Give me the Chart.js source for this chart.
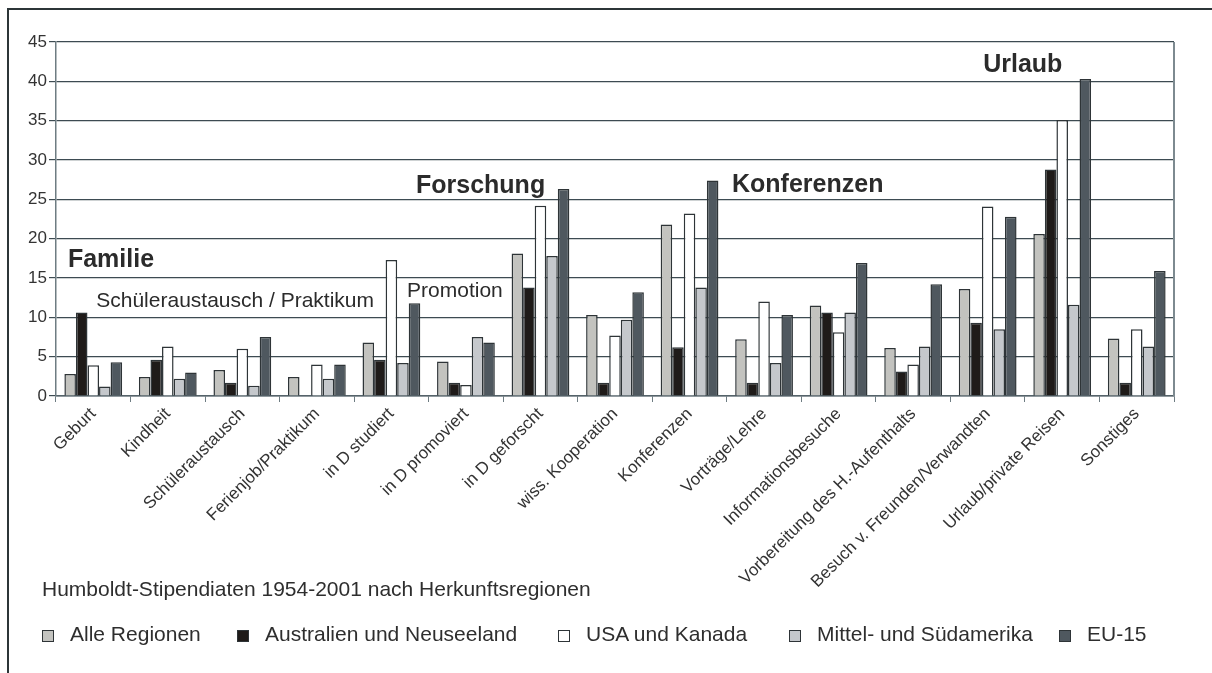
<!DOCTYPE html>
<html lang="de">
<head>
<meta charset="utf-8">
<title>Humboldt-Stipendiaten 1954-2001</title>
<script src="https://cdn.jsdelivr.net/npm/chart.js@4.4.1/dist/chart.umd.min.js"></script>
<style>
	html, body { margin: 0; padding: 0; background: #fff; }
	#wrap { position: relative; width: 1212px; height: 673px; overflow: hidden; font-family: "Liberation Sans", Arial, sans-serif; color: #2e2e2e; }
	#frame { position: absolute; left: 7px; top: 8px; width: 1300px; height: 800px; border-top: 2px solid #2c3538; border-left: 2px solid #2c3538; }
	#chart { position: absolute; left: 0; top: 0; }
	#caption { position: absolute; left: 42px; top: 577px; font-size: 21px; white-space: nowrap; }
	.leg-item { position: absolute; top: 622px; font-size: 21px; white-space: nowrap; }
	.leg-box { position: absolute; top: 8px; width: 10px; height: 10px; border: 1.5px solid #2e3437; }
</style>
</head>
<body>
<div id="wrap">
	<div id="frame"></div>
	<canvas id="chart" width="1212" height="673"></canvas>
	<div id="caption">Humboldt-Stipendiaten 1954-2001 nach Herkunftsregionen</div>
	<div id="legend"></div>
</div>
<script>
/* global Chart */

// Kategorien (x-Achse)
var categories = [
	'Geburt', 'Kindheit', 'Schüleraustausch', 'Ferienjob/Praktikum', 'in D studiert',
	'in D promoviert', 'in D geforscht', 'wiss. Kooperation', 'Konferenzen', 'Vorträge/Lehre',
	'Informationsbesuche', 'Vorbereitung des H.-Aufenthalts', 'Besuch v. Freunden/Verwandten',
	'Urlaub/private Reisen', 'Sonstiges'
];

// Werte je Herkunftsregion (in %)
var alleRegionen   = [ 2.8, 2.4, 3.3, 2.4, 6.8, 4.4, 18.1, 10.3, 21.8, 7.2, 11.5, 6.1, 13.6, 20.6, 7.3 ];
var australienNz   = [ 10.6, 4.6, 1.7, 0, 4.6, 1.7, 13.8, 1.7, 6.2, 1.7, 10.6, 3.1, 9.3, 28.8, 1.7 ];
var usaKanada      = [ 3.9, 6.3, 6.0, 4.0, 17.3, 1.4, 24.2, 7.7, 23.2, 12.0, 8.1, 4.0, 24.1, 35.1, 8.5 ];
var mittelSuedam   = [ 1.2, 2.2, 1.3, 2.2, 4.2, 7.5, 17.8, 9.7, 13.8, 4.2, 10.6, 6.3, 8.5, 11.6, 6.3 ];
var eu15           = [ 4.3, 3.0, 7.5, 4.0, 11.8, 6.8, 26.3, 13.2, 27.4, 10.3, 16.9, 14.2, 22.8, 40.3, 15.9 ];

var seriesNames = [ 'Alle Regionen', 'Australien und Neuseeland', 'USA und Kanada', 'Mittel- und Südamerika', 'EU-15' ];

// y-Achse
var yTicks = [ 0, 5, 10, 15, 20, 25, 30, 35, 40, 45 ];

var seriesColors = [ '#c3c3bf', '#1f1b19', '#ffffff', '#c5c8cc', '#4f585f' ];

// Beschriftungen im Diagramm: x in Kategorie-Einheiten, y in Werteinheiten (Grundlinie)
var notes = [
	{ text: 'Familie', x: -0.34, y: 16.4, bold: true },
	{ text: 'Schüleraustausch / Praktikum', x: 0.04, y: 11.3, bold: false },
	{ text: 'Promotion', x: 4.21, y: 12.6, bold: false },
	{ text: 'Forschung', x: 4.33, y: 25.75, bold: true },
	{ text: 'Konferenzen', x: 8.57, y: 25.9, bold: true },
	{ text: 'Urlaub', x: 11.94, y: 41.2, bold: true }
];

var legendLefts = [ 42, 237, 558, 789, 1059 ];

var FONT = '"Liberation Sans", Arial, sans-serif';

var notesPlugin = {
	id: 'notes',
	afterDatasetsDraw: function ( chart ) {
		var ctx = chart.ctx;
		var xs = chart.scales.x;
		var ys = chart.scales.y;
		var area = chart.chartArea;

		// rechter Rahmen der Zeichenfläche
		ctx.save();
		ctx.strokeStyle = '#7d8a90';
		ctx.lineWidth = 2;
		ctx.beginPath();
		ctx.moveTo( area.right, area.top );
		ctx.lineTo( area.right, area.bottom );
		ctx.stroke();

		ctx.fillStyle = '#2b2b2b';
		ctx.textAlign = 'left';
		ctx.textBaseline = 'alphabetic';
		notes.forEach( function ( n ) {
			ctx.font = ( n.bold ? 'bold 25px ' : '21px ' ) + FONT;
			ctx.fillText( n.text, xs.getPixelForValue( n.x ), ys.getPixelForValue( n.y ) );
		} );
		ctx.restore();
	}
};

var datasets = seriesNames.map( function ( name, i ) {
	return {
		label: name,
		data: [ alleRegionen, australienNz, usaKanada, mittelSuedam, eu15 ][ i ],
		backgroundColor: seriesColors[ i ],
		borderColor: '#2e3437',
		borderWidth: 1.5,
		borderSkipped: 'bottom',
		categoryPercentage: 0.775,
		barPercentage: 1.0
	};
} );

new Chart( document.getElementById( 'chart' ), {
	type: 'bar',
	data: { labels: categories, datasets: datasets },
	plugins: [ notesPlugin ],
	options: {
		responsive: false,
		animation: false,
		layout: { padding: { left: 0, top: 42, right: 38, bottom: 0 } },
		plugins: {
			legend: { display: false },
			tooltip: { enabled: false }
		},
		scales: {
			x: {
				grid: {
					display: true,
					drawOnChartArea: false,
					drawTicks: true,
					tickLength: 6,
					color: '#6e7c82',
					offset: true
				},
				border: { display: true, color: '#55636a', width: 1.5 },
				ticks: {
					autoSkip: false,
					maxRotation: 45,
					minRotation: 45,
					padding: 2,
					color: '#333',
					font: { family: FONT, size: 17 }
				},
				afterFit: function ( scale ) { scale.height = 673 - 396; }
			},
			y: {
				min: 0,
				max: 45,
				afterBuildTicks: function ( scale ) {
					scale.ticks = yTicks.map( function ( v ) { return { value: v }; } );
				},
				grid: {
					color: '#3d4b52',
					lineWidth: 1.2,
					tickLength: 7
				},
				border: { display: true, color: '#6e7c82', width: 1.5 },
				ticks: {
					padding: 2,
					color: '#333',
					font: { family: FONT, size: 17 }
				},
				afterFit: function ( scale ) { scale.width = 56; }
			}
		}
	}
} );

// Legende
var legend = document.getElementById( 'legend' );
seriesNames.forEach( function ( name, i ) {
	var item = document.createElement( 'div' );
	item.className = 'leg-item';
	item.style.left = legendLefts[ i ] + 'px';
	var box = document.createElement( 'span' );
	box.className = 'leg-box';
	box.style.left = '0px';
	box.style.background = seriesColors[ i ];
	var label = document.createElement( 'span' );
	label.style.marginLeft = '28px';
	label.textContent = name;
	item.appendChild( box );
	item.appendChild( label );
	legend.appendChild( item );
} );
</script>
</body>
</html>
